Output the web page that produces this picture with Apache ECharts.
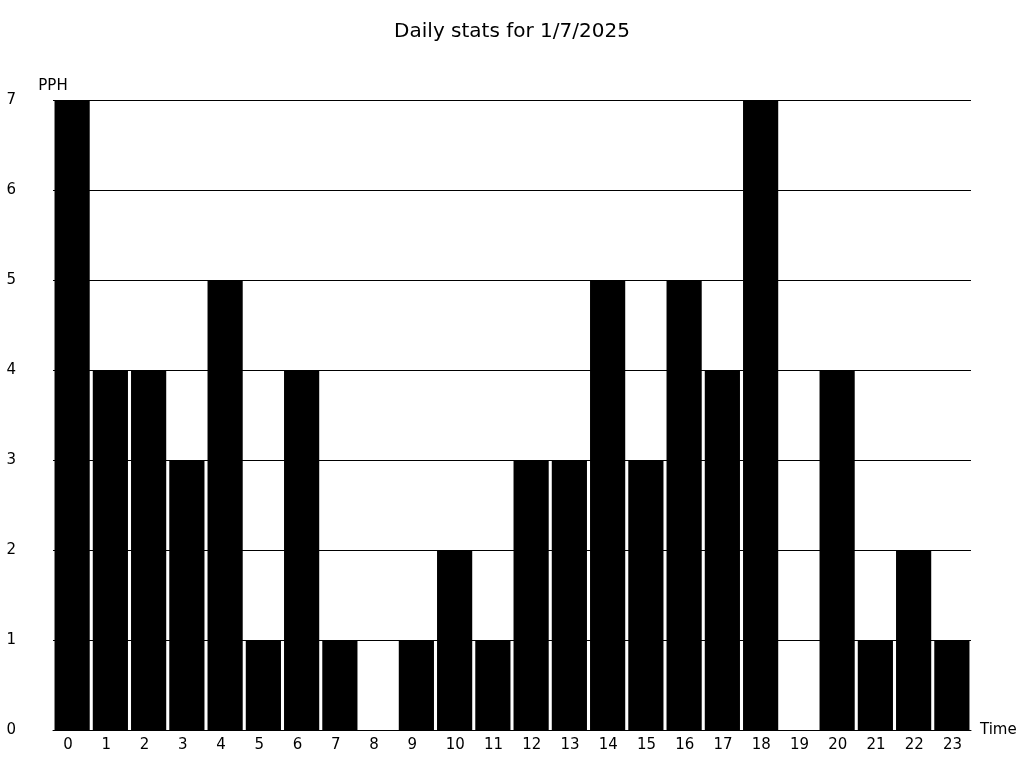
<!DOCTYPE html>
<html><head><meta charset="utf-8">
<script src="https://cdn.jsdelivr.net/npm/echarts@6/dist/echarts.min.js"></script>
<style>html,body{margin:0;padding:0;background:#fff}#c{width:1024px;height:768px}</style>
</head><body><div id="c"></div>
<script>
const categories = ['0','1','2','3','4','5','6','7','8','9','10','11','12','13','14','15','16','17','18','19','20','21','22','23'];
const pph = [7,4,4,3,5,1,4,1,0,1,2,1,3,3,5,3,5,4,7,0,4,1,2,1];
const yTicks = [0,1,2,3,4,5,6,7];
const chart = echarts.init(document.getElementById('c'));
const font = 'DejaVu Sans';
chart.setOption({
  animation:false,
  backgroundColor:'#fff',
  textStyle:{fontFamily:font},
  title:{text:'Daily stats for 1/7/2025',left:'center',top:17,textStyle:{fontFamily:font,fontSize:20,fontWeight:'normal',color:'#000'}},
  grid:{left:53,right:53,top:100,bottom:38,containLabel:false},
  xAxis:{type:'category',data:categories,name:'Time',nameLocation:'end',nameGap:9,
    nameTextStyle:{fontFamily:font,fontSize:15,color:'#000'},
    axisLine:{lineStyle:{color:'#000',width:1}},axisTick:{show:false},
    axisLabel:{interval:0,fontFamily:font,fontSize:15,color:'#000',margin:8,formatter:'{a|{value}}',
      rich:{a:{width:18,align:'left',fontFamily:font,fontSize:15,color:'#000'}}}},
  yAxis:{type:'value',min:yTicks[0],max:yTicks[yTicks.length-1],interval:1,name:'PPH',nameLocation:'end',nameGap:6,
    nameTextStyle:{fontFamily:font,fontSize:15,color:'#000'},
    axisLine:{show:false},axisTick:{show:false},
    axisLabel:{fontFamily:font,fontSize:15,color:'#000',margin:37,padding:[3,0,0,0]},
    splitLine:{lineStyle:{color:'#000',width:1}}},
  series:[{type:'bar',data:pph,barCategoryGap:'8%',itemStyle:{color:'#000'}}]
});
</script></body></html>
